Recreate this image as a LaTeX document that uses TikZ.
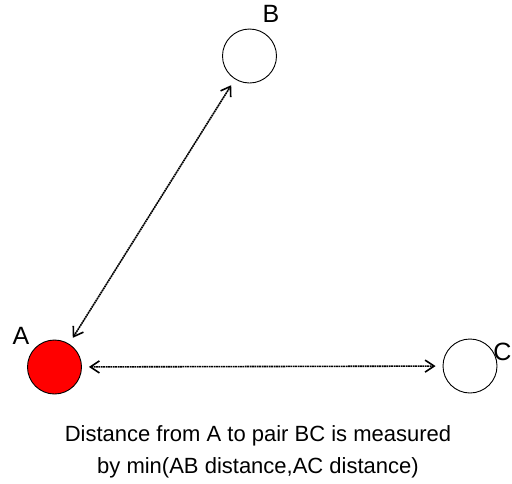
\documentclass[tikz,border=0pt]{standalone}
\usepackage{fontspec}
\setmainfont{Liberation Sans}
\usetikzlibrary{positioning, arrows.meta}

\tikzset{
  pt/.style={circle, draw, line width=0.9pt, minimum size=54pt, inner sep=0pt},
  dist/.style={{Straight Barb[length=9pt, width=12pt]}-{Straight Barb[length=9pt, width=12pt]},
    line width=1.6pt, dash pattern=on 1.8pt off 0.6pt, shorten <=7pt, shorten >=7pt},
  lbl/.style={font=\fontsize{25}{30}\selectfont, inner sep=0pt}
}

\begin{document}
\begin{tikzpicture}[x=1pt, y=-1pt]
  \useasboundingbox (0,0) rectangle (512,483);
  % Points
  \node[pt, fill=red] (a) at (54.5,367) {};
  \node[pt] (b) at (249.5,56) {};
  \node[pt] (c) at (470,366) {};
  \node[lbl] (la) at (21,335.5) {A};
  \node[lbl] (lb) at (271,14) {B};
  \node[lbl] (lc) at (502.5,351.5) {C};

  % Distances
  \draw[dist] (a) -- (b);
  \draw[dist] (a) -- (c);

  % Caption
  \node[lbl, font=\fontsize{22}{31.5}\selectfont, align=center, anchor=base] (cap) at (258,473)
    {Distance from A to pair BC is measured\\by min(AB distance,AC distance)};
\end{tikzpicture}
\end{document}
